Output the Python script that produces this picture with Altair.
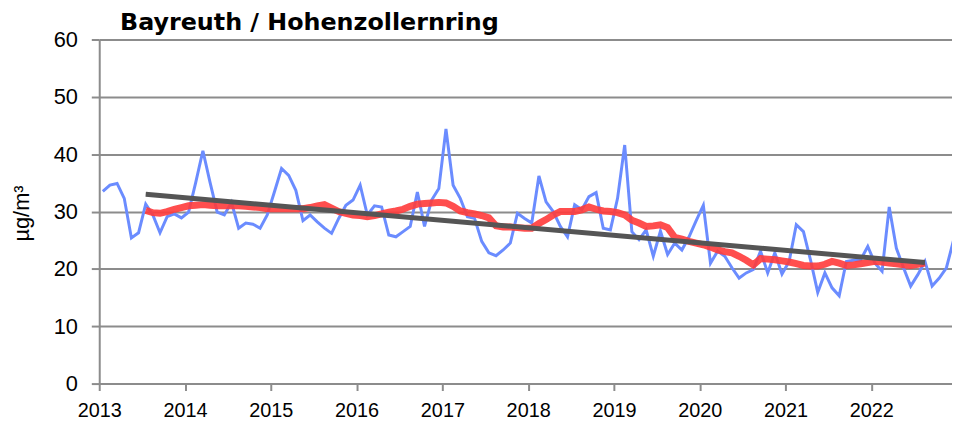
import altair as alt
import pandas as pd

# ---- data (monthly values, Jan 2013 .. Dec 2022) ----
first_year = 2013
blue_values = [
    33.5, 34.6, 34.9, 32.3, 25.4, 26.3, 31.3, 29.4, 26.3, 29.1, 29.6, 28.9,   # 2013
    29.9, 35.1, 40.6, 35.1, 29.9, 29.4, 31.6, 27.1, 28.0, 27.8, 27.1, 29.4,   # 2014
    33.4, 37.5, 36.3, 33.7, 28.4, 29.4, 28.2, 27.1, 26.2, 28.8, 31.1, 32.0,   # 2015
    34.6, 29.4, 31.0, 30.8, 25.9, 25.6, 26.5, 27.4, 33.4, 27.4, 32.0, 34.0,   # 2016
    44.4, 34.6, 32.3, 29.1, 28.8, 24.8, 22.8, 22.3, 23.3, 24.5, 29.7, 28.8,   # 2017
    28.0, 36.2, 31.7, 30.0, 27.4, 25.6, 31.2, 30.3, 32.6, 33.3, 27.1, 26.8,   # 2018
    32.3, 41.6, 26.5, 25.1, 26.8, 22.2, 26.6, 22.5, 24.5, 23.3, 25.6, 28.4,   # 2019
    31.1, 21.0, 23.1, 22.2, 20.2, 18.4, 19.3, 19.9, 23.1, 19.3, 22.8, 19.1,   # 2020
    21.3, 27.7, 26.5, 21.5, 15.9, 19.3, 16.7, 15.3, 21.3, 21.5, 21.6, 23.9,   # 2021
    21.0, 19.6, 30.8, 23.6, 20.2, 17.0, 19.0, 21.3, 17.0, 18.4, 20.2, 25.0,   # 2022
]
# running mean, from month index 6 (Jul 2013) to 115 (Aug 2022)
red_first_month = 6
red_values = [
    30.2, 29.8, 29.7, 30.0, 30.4, 30.7,
    31.0, 31.1, 31.2, 31.1, 31.0, 31.0, 31.0, 31.0, 30.9, 30.8, 30.7, 30.5,
    30.5, 30.5, 30.5, 30.5, 30.5, 30.7, 31.0, 31.2, 30.6, 30.0, 29.7, 29.4,
    29.3, 29.1, 29.3, 29.6, 29.9, 30.1, 30.4, 30.9, 31.3, 31.4, 31.5, 31.6,
    31.5, 30.9, 30.1, 29.8, 29.6, 29.3, 28.9, 27.5, 27.3, 27.3, 27.2, 27.1,
    27.1, 27.9, 28.6, 29.4, 30.0, 30.0, 30.0, 30.3, 30.8, 30.4, 30.1, 30.0,
    29.8, 29.4, 28.5, 28.0, 27.4, 27.5, 27.7, 27.2, 25.5, 25.2, 24.8, 24.5,
    24.2, 23.8, 23.3, 23.0, 22.8, 22.2, 21.5, 20.7, 21.8, 21.7, 21.6, 21.4,
    21.2, 20.9, 20.6, 20.5, 20.5, 20.8, 21.3, 21.0, 20.6, 20.7, 20.9, 21.1,
    21.3, 21.2, 21.0, 20.9, 20.7, 20.6, 20.8, 21.0,
]
trend_months = [6, 115]
trend_values = [33.0, 21.1]
year_ticks = list(range(2013, 2023))
y_ticks = [0, 10, 20, 30, 40, 50, 60]
title_text = "Bayreuth / Hohenzollernring"
y_title = "µg/m³"


def month_pos(m):
    return first_year + (m + 0.5) / 12


blue_df = pd.DataFrame({"t": [month_pos(i) for i in range(len(blue_values))], "v": blue_values})
red_df = pd.DataFrame({"t": [month_pos(red_first_month + i) for i in range(len(red_values))], "v": red_values})
trend_df = pd.DataFrame({"t": [month_pos(m) for m in trend_months], "v": trend_values})

FONT = "Liberation Sans"
GRID = "#8c8c8c"

x_enc = alt.X(
    "t:Q",
    scale=alt.Scale(domain=[2013, 2022.94], nice=False, zero=False),
    axis=alt.Axis(
        values=year_ticks, format="d", title=None, labelFlush=False, labelOverlap=False,
        labelFont=FONT, labelFontSize=20, labelColor="black", labelPadding=10,
        tickSize=7, tickColor=GRID, tickWidth=2, domainColor=GRID, domainWidth=2,
        grid=False,
    ),
)
y_enc = alt.Y(
    "v:Q",
    scale=alt.Scale(domain=[0, 60], nice=False),
    axis=alt.Axis(
        values=y_ticks, title=y_title, titleFont=FONT, titleFontSize=22, titleFontWeight="normal",
        titleColor="black", titleAngle=270, titleX=-78, titleY=175, titleAlign="center",
        titleBaseline="middle",
        labelFont=FONT, labelFontSize=22, labelColor="black", labelPadding=14,
        tickSize=8, tickColor=GRID, tickWidth=2, domainColor=GRID, domainWidth=2,
        grid=True, gridColor=GRID, gridWidth=2,
    ),
)

blue = alt.Chart(blue_df).mark_line(color="#6b8cff", strokeWidth=3, clip=True).encode(x=x_enc, y=y_enc)
red = alt.Chart(red_df).mark_line(color="#ff3b3b", strokeWidth=7, opacity=0.9, clip=True).encode(x=x_enc, y=y_enc)
trend = alt.Chart(trend_df).mark_line(color="#555555", strokeWidth=5, clip=True).encode(x=x_enc, y=y_enc)

chart = alt.layer(blue, red, trend).properties(
    width=860,
    height=347,
    autosize=alt.AutoSizeParams(type="none"),
    padding={"left": 92, "top": 30, "right": 0, "bottom": 41},
    title=alt.TitleParams(
        title_text, anchor="start", frame="group", dx=21, dy=13, offset=7,
        font="DejaVu Sans", fontSize=24, fontWeight="bold", color="black",
    ),
).configure_view(stroke=None).configure(background="white")

chart.save("out.html", embed_options={"renderer": "svg", "actions": False})
